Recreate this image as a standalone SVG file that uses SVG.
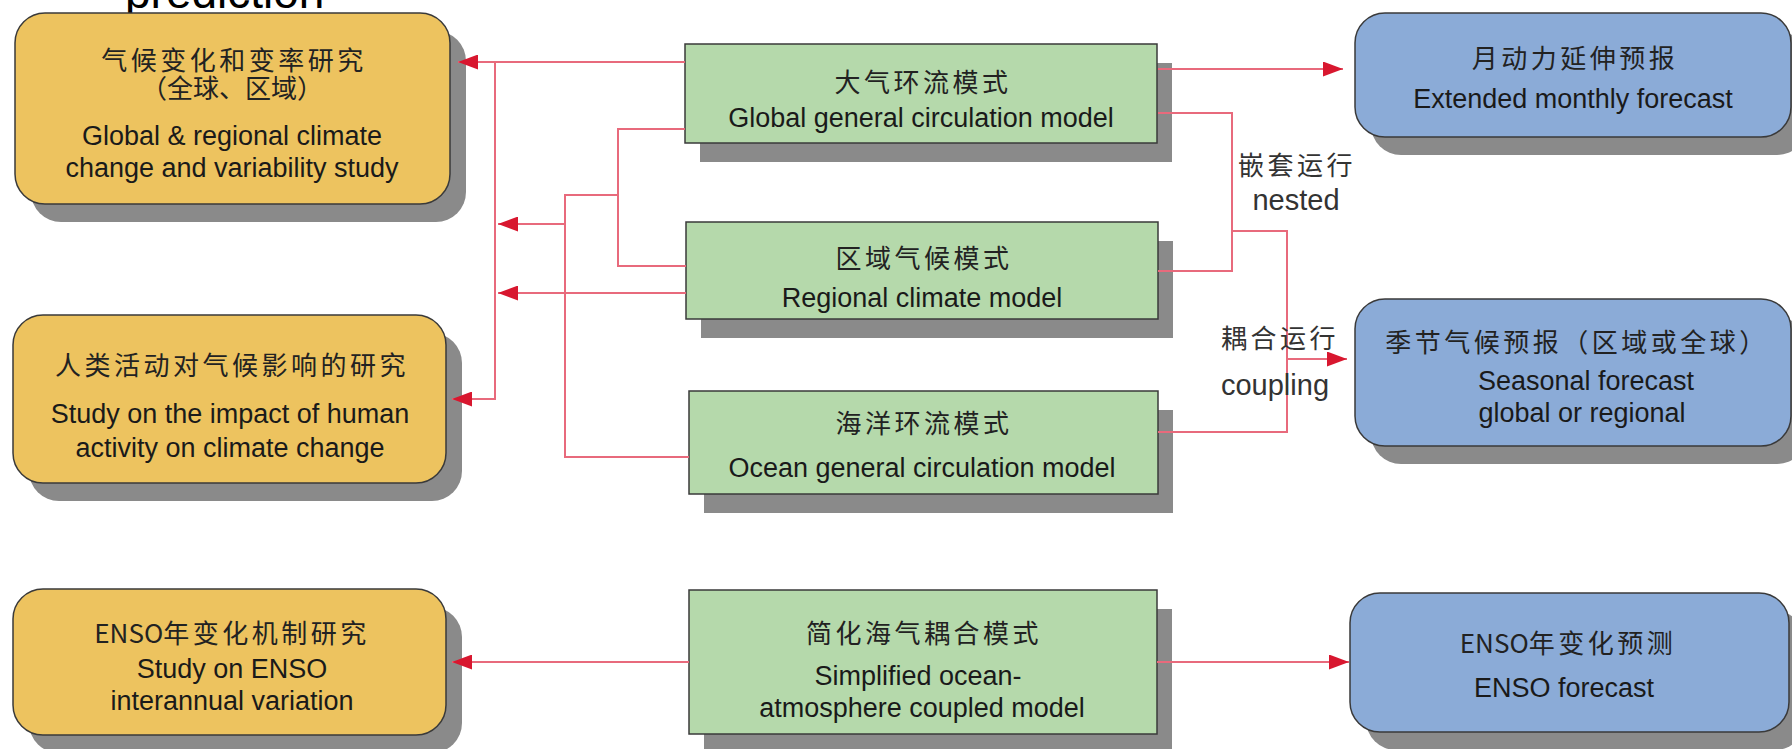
<svg xmlns="http://www.w3.org/2000/svg" width="1792" height="749" viewBox="0 0 1792 749">
<style>
.sh{fill:#8a8a8a}
.y{fill:#EDC35F;stroke:#3a3a3a;stroke-width:1.5}
.g{fill:#B5D9AB;stroke:#3a3a3a;stroke-width:1.5}
.b{fill:#8BABD7;stroke:#3a3a3a;stroke-width:1.5}
.zh{font-family:"Noto Sans CJK SC",sans-serif;font-size:26px;letter-spacing:3.5px;fill:#222;text-anchor:middle}
.en{font-family:"Liberation Sans",Arial,sans-serif;font-size:27px;fill:#1a1a1a;text-anchor:middle}
.lb{font-family:"Liberation Sans",Arial,sans-serif;font-size:29px;fill:#333;text-anchor:middle}
.lz{font-family:"Noto Sans CJK SC",sans-serif;font-size:26px;letter-spacing:3.5px;fill:#333;text-anchor:middle}
.ln{fill:none;stroke:#E86A7C;stroke-width:2}
.tight{letter-spacing:0}
</style>
<defs>
<marker id="ah" markerUnits="userSpaceOnUse" markerWidth="20" markerHeight="15" refX="20" refY="7.5" orient="auto">
<path d="M0,0 L20,7.5 L0,15 Z" fill="#D8172F"/>
</marker>
</defs>
<rect width="1792" height="749" fill="#ffffff"/>
<text x="125" y="8" font-family="Liberation Sans, Arial, sans-serif" font-size="46" fill="#000">prediction</text>

<g id="study-climate">
<rect class="sh" x="31" y="31" width="435" height="191" rx="30"/>
<rect class="y" x="15" y="13" width="435" height="191" rx="30"/>
<text class="zh" x="234" y="70">气候变化和变率研究</text>
<text class="zh tight" x="232" y="98">（全球、区域）</text>
<text class="en" x="232" y="145">Global &amp; regional climate</text>
<text class="en" x="232" y="177">change and variability study</text>
</g>
<g id="study-human">
<rect class="sh" x="29" y="333" width="433" height="168" rx="30"/>
<rect class="y" x="13" y="315" width="433" height="168" rx="30"/>
<text class="zh" x="232" y="375">人类活动对气候影响的研究</text>
<text class="en" x="230" y="423">Study on the impact of human</text>
<text class="en" x="230" y="457">activity on climate change</text>
</g>
<g id="study-enso">
<rect class="sh" x="29" y="607" width="433" height="146" rx="30"/>
<rect class="y" x="13" y="589" width="433" height="146" rx="30"/>
<text class="zh" x="232" y="643"><tspan class="tight">ENSO</tspan>年变化机制研究</text>
<text class="en" x="232" y="678">Study on ENSO</text>
<text class="en" x="232" y="710">interannual variation</text>
</g>

<g id="gcm">
<rect class="sh" x="700" y="63" width="472" height="99"/>
<rect class="g" x="685" y="44" width="472" height="99"/>
<text class="zh" x="923" y="92">大气环流模式</text>
<text class="en" x="921" y="127">Global general circulation model</text>
</g>
<g id="rcm">
<rect class="sh" x="701" y="241" width="472" height="97"/>
<rect class="g" x="686" y="222" width="472" height="97"/>
<text class="zh" x="924" y="268">区域气候模式</text>
<text class="en" x="922" y="307">Regional climate model</text>
</g>
<g id="ogcm">
<rect class="sh" x="704" y="410" width="469" height="103"/>
<rect class="g" x="689" y="391" width="469" height="103"/>
<text class="zh" x="924" y="433">海洋环流模式</text>
<text class="en" x="922" y="477">Ocean general circulation model</text>
</g>
<g id="simplified">
<rect class="sh" x="704" y="609" width="468" height="144"/>
<rect class="g" x="689" y="590" width="468" height="144"/>
<text class="zh" x="924" y="643">简化海气耦合模式</text>
<text class="en" x="918" y="685">Simplified ocean-</text>
<text class="en" x="922" y="717">atmosphere coupled model</text>
</g>

<g id="monthly">
<rect class="sh" x="1371" y="31" width="436" height="124" rx="30"/>
<rect class="b" x="1355" y="13" width="436" height="124" rx="30"/>
<text class="zh" x="1575" y="68">月动力延伸预报</text>
<text class="en" x="1573" y="108">Extended monthly forecast</text>
</g>
<g id="seasonal">
<rect class="sh" x="1371" y="317" width="436" height="147" rx="30"/>
<rect class="b" x="1355" y="299" width="436" height="147" rx="30"/>
<text class="zh" x="1577" y="352">季节气候预报（区域或全球）</text>
<text class="en" x="1586" y="390">Seasonal forecast</text>
<text class="en" x="1582" y="422">global or regional</text>
</g>
<g id="enso-forecast">
<rect class="sh" x="1366" y="611" width="439" height="139" rx="30"/>
<rect class="b" x="1350" y="593" width="439" height="139" rx="30"/>
<text class="zh" x="1568" y="653"><tspan class="tight">ENSO</tspan>年变化预测</text>
<text class="en" x="1564" y="697">ENSO forecast</text>
</g>

<g id="connectors">
<path class="ln" d="M685,62 H458" marker-end="url(#ah)"/>
<path class="ln" d="M495,62 V399 H452" marker-end="url(#ah)"/>
<path class="ln" d="M685,129 H618 V266 H686"/>
<path class="ln" d="M618,195 H565 V457 H689"/>
<path class="ln" d="M565,224 H498" marker-end="url(#ah)"/>
<path class="ln" d="M686,293 H498" marker-end="url(#ah)"/>
<path class="ln" d="M1158,69 H1343" marker-end="url(#ah)"/>
<path class="ln" d="M1158,113 H1232 V271 H1158"/>
<path class="ln" d="M1232,231 H1287 V432 H1158"/>
<path class="ln" d="M1287,359 H1347" marker-end="url(#ah)"/>
<path class="ln" d="M689,662 H452" marker-end="url(#ah)"/>
<path class="ln" d="M1157,662 H1349" marker-end="url(#ah)"/>
<text class="lz" x="1297" y="175">嵌套运行</text>
<text class="lb" x="1296" y="210">nested</text>
<text class="lz" x="1280" y="348">耦合运行</text>
<text class="lb" x="1275" y="395">coupling</text>
</g>
</svg>
